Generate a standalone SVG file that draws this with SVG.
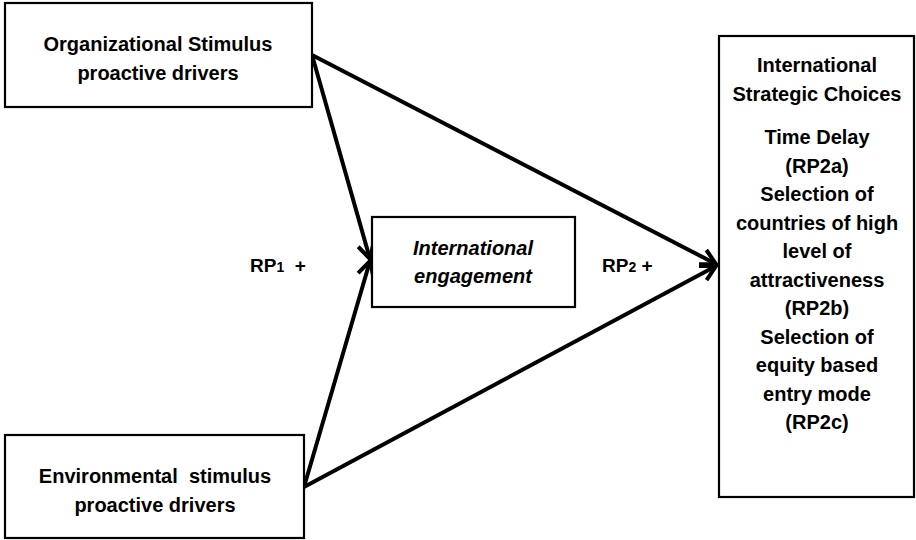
<svg xmlns="http://www.w3.org/2000/svg" width="916" height="540" viewBox="0 0 916 540">
  <style>
    .box { fill: #ffffff; stroke: #000000; stroke-width: 2.2; }
    .lbl { font-family: "Liberation Sans", Arial, sans-serif; font-weight: bold; font-size: 20px; fill: #000000; text-anchor: middle; white-space: pre; }
    .it { font-style: italic; }
    .rp { font-family: "Liberation Sans", Arial, sans-serif; font-weight: bold; font-size: 19px; fill: #000000; white-space: pre; }
    .sub { font-size: 14px; }
    .edge { stroke: #000000; stroke-width: 4; fill: none; }
  </style>
  <defs>
    <marker id="arrow" viewBox="0 0 20 20" refX="18" refY="10" markerWidth="20" markerHeight="20" markerUnits="userSpaceOnUse" orient="auto">
      <path d="M3,2 L18,10 L3,18" fill="none" stroke="#000000" stroke-width="4" stroke-linejoin="miter"/>
    </marker>
  </defs>

  <g id="connectors">
    <line class="edge" x1="312" y1="55" x2="370" y2="259" marker-end="url(#arrow)"/>
    <line class="edge" x1="304" y1="487" x2="370" y2="261" marker-end="url(#arrow)"/>
    <line class="edge" x1="312" y1="55" x2="716" y2="264" marker-end="url(#arrow)"/>
    <line class="edge" x1="304" y1="487" x2="716" y2="266" marker-end="url(#arrow)"/>
  </g>

  <g id="org-stimulus">
    <rect class="box" x="5" y="3" width="307" height="104"/>
    <text class="lbl" x="158" y="51">Organizational Stimulus</text>
    <text class="lbl" x="158" y="80">proactive drivers</text>
  </g>

  <g id="env-stimulus">
    <rect class="box" x="5" y="435" width="299" height="103"/>
    <text class="lbl" x="155" y="483">Environmental  stimulus</text>
    <text class="lbl" x="155" y="512">proactive drivers</text>
  </g>

  <g id="engagement">
    <rect class="box" x="372" y="217" width="203" height="90"/>
    <text class="lbl it" x="473" y="255">International</text>
    <text class="lbl it" x="473" y="283">engagement</text>
  </g>

  <g id="strategic-choices">
    <rect class="box" x="719" y="36" width="195" height="461"/>
    <text class="lbl" x="817" y="72">International</text>
    <text class="lbl" x="817" y="101">Strategic Choices</text>
    <text class="lbl" x="817" y="144">Time Delay</text>
    <text class="lbl" x="817" y="173">(RP2a)</text>
    <text class="lbl" x="817" y="201">Selection of</text>
    <text class="lbl" x="817" y="230">countries of high</text>
    <text class="lbl" x="817" y="258">level of</text>
    <text class="lbl" x="817" y="287">attractiveness</text>
    <text class="lbl" x="817" y="315">(RP2b)</text>
    <text class="lbl" x="817" y="344">Selection of</text>
    <text class="lbl" x="817" y="372">equity based</text>
    <text class="lbl" x="817" y="401">entry mode</text>
    <text class="lbl" x="817" y="429">(RP2c)</text>
  </g>

  <g id="rp1">
    <text class="rp" x="250" y="272">RP<tspan class="sub">1</tspan>  +</text>
  </g>
  <g id="rp2">
    <text class="rp" x="602" y="272">RP<tspan class="sub">2</tspan> +</text>
  </g>
</svg>
